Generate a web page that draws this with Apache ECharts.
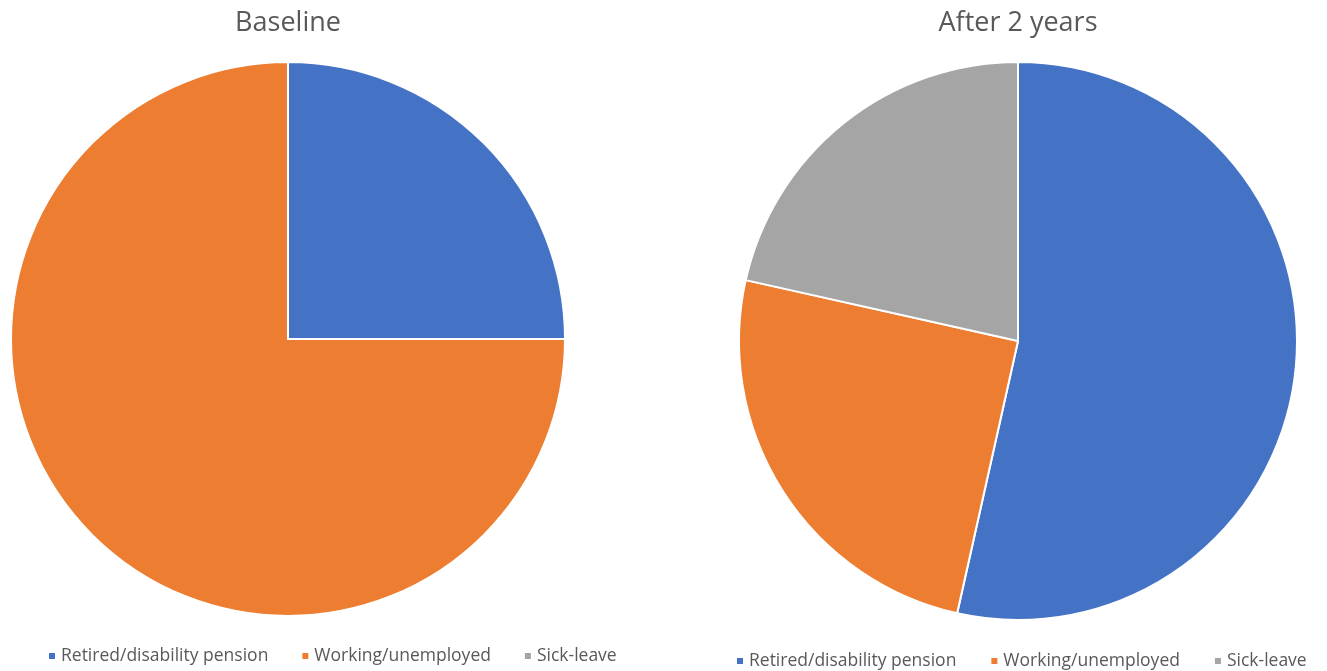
<!DOCTYPE html>
<html>
<head>
<meta charset="utf-8">
<script src="https://cdn.jsdelivr.net/npm/echarts@6/dist/echarts.min.js"></script>
<style>
  html, body { margin: 0; padding: 0; background: #fff; }
  #chart { width: 1327px; height: 671px; }
</style>
</head>
<body>
<div id="chart"></div>
<script>
const categories = ['Retired/disability pension', 'Working/unemployed', 'Sick-leave']
const baselineValues = [25, 75, 0]
const afterValues = [53.5, 25, 21.5]
const titles = ['Baseline', 'After 2 years']

const colors = ['#4472C4', '#ED7D31', '#A5A5A5']
const textColor = '#595959'
const font = '"Open Sans", sans-serif'

const toData = vals => categories.map((name, i) => ({ name, value: vals[i] }))

const titleStyle = { color: textColor, fontFamily: font, fontSize: 27, fontWeight: 'normal' }
const legendStyle = { color: textColor, fontFamily: font, fontSize: 17.5 }

const chart = echarts.init(document.getElementById('chart'))
chart.setOption({
  animation: false,
  color: colors,
  title: [
    { text: titles[0], left: 283, top: 5, textAlign: 'center', textStyle: titleStyle },
    { text: titles[1], left: 1013, top: 5, textAlign: 'center', textStyle: titleStyle }
  ],
  legend: [
    { data: categories, left: 42, top: 642, icon: 'rect', itemWidth: 8, itemHeight: 8, itemGap: 32,
      selectedMode: false, textStyle: legendStyle },
    { data: categories, left: 730, top: 647, icon: 'rect', itemWidth: 8, itemHeight: 8, itemGap: 33,
      selectedMode: false, textStyle: legendStyle }
  ],
  series: [
    {
      type: 'pie',
      center: [288, 339],
      radius: 277,
      startAngle: 90,
      data: toData(baselineValues),
      label: { show: false },
      labelLine: { show: false },
      itemStyle: { borderColor: '#fff', borderWidth: 2 },
      emphasis: { disabled: true }
    },
    {
      type: 'pie',
      center: [1018, 341],
      radius: 279,
      startAngle: 90,
      data: toData(afterValues),
      label: { show: false },
      labelLine: { show: false },
      itemStyle: { borderColor: '#fff', borderWidth: 2 },
      emphasis: { disabled: true }
    }
  ]
})
</script>
</body>
</html>
